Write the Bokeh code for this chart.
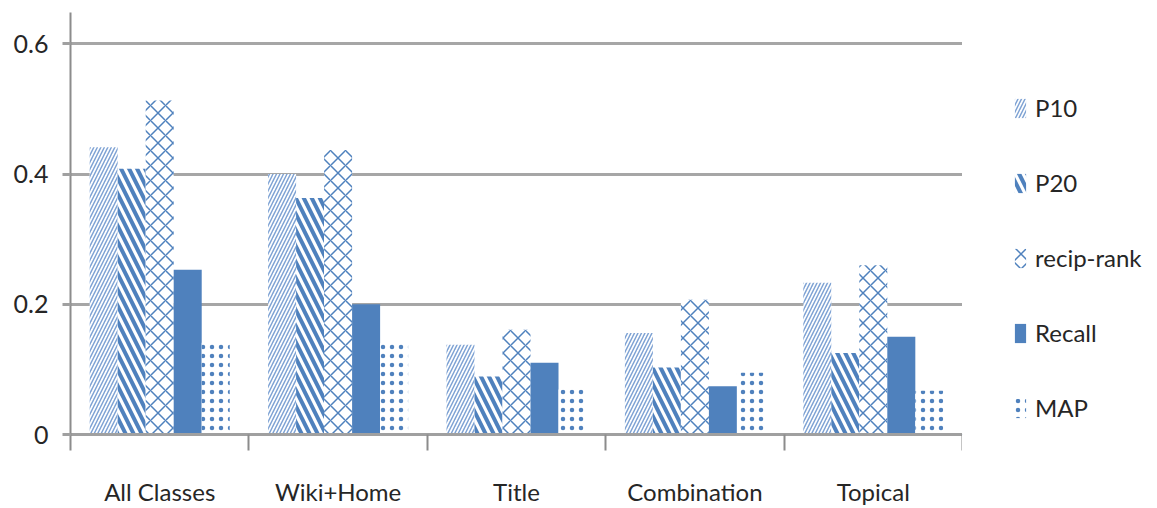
from bokeh.plotting import figure
from bokeh.models import ColumnDataSource, FixedTicker, Legend, LegendItem, Range1d
from bokeh.transform import dodge
from bokeh.layouts import row
from bokeh.embed import file_html
from bokeh.resources import INLINE

categories = ["All Classes", "Wiki+Home", "Title", "Combination", "Topical"]
series = ["P10", "P20", "recip-rank", "Recall", "MAP"]
p10 = [0.441, 0.400, 0.138, 0.156, 0.233]
p20 = [0.408, 0.363, 0.089, 0.103, 0.125]
recip_rank = [0.513, 0.437, 0.161, 0.207, 0.260]
recall = [0.253, 0.200, 0.110, 0.074, 0.150]
map_ = [0.141, 0.140, 0.069, 0.095, 0.067]
y_ticks = [0, 0.2, 0.4, 0.6]
y_tick_labels = ["0", "0.2", "0.4", "0.6"]

centers = [i + 0.5 for i in range(len(categories))]
source = ColumnDataSource(dict(x=centers, P10=p10, P20=p20, recip=recip_rank,
                               Recall=recall, MAP=map_))

FONT = "Lato"
BLUE = "#4f81bd"
TXT = "#262626"

p = figure(width=962, height=508, output_backend="svg", toolbar_location=None,
           x_range=Range1d(0, 5), y_range=Range1d(0, 0.648),
           min_border_left=70, min_border_right=0, min_border_top=12, min_border_bottom=73)
p.outline_line_color = None
p.background_fill_color = "white"

bw = 0.157
styles = [
    ("P10", dict(hatch_pattern="right_diagonal_line", hatch_color="#7fa3d4", hatch_weight=1.5, hatch_scale=7)),
    ("P20", dict(hatch_pattern="left_diagonal_line", hatch_color=BLUE, hatch_weight=4, hatch_scale=16)),
    ("recip", dict(hatch_pattern="diagonal_cross", hatch_color=BLUE, hatch_weight=1.5, hatch_scale=15)),
    ("Recall", dict(fill_color=BLUE)),
    ("MAP", dict(hatch_pattern="dot", hatch_color=BLUE, hatch_weight=3, hatch_scale=9)),
]
for j, (col, st) in enumerate(styles):
    kw = dict(fill_color="white", line_color=None)
    kw.update(st)
    p.vbar(x=dodge("x", (j - 2) * bw, range=p.x_range), top=col, width=bw,
           source=source, **kw)

# axes
xa = p.xaxis[0]
xa.ticker = FixedTicker(ticks=centers, minor_ticks=[0, 1, 2, 3, 4, 5])
xa.major_label_overrides = {c: lab for c, lab in zip(centers, categories)}
xa.major_tick_line_color = None
xa.minor_tick_line_color = "#8c8c8c"
xa.minor_tick_line_width = 2
xa.minor_tick_in = 0
xa.minor_tick_out = 16
xa.axis_line_color = "#a0a0a0"
xa.axis_line_width = 3
xa.major_label_text_font = FONT
xa.major_label_text_font_size = "24px"
xa.major_label_text_color = TXT
xa.major_label_standoff = 26

ya = p.yaxis[0]
ya.ticker = FixedTicker(ticks=y_ticks, minor_ticks=[])
ya.major_label_overrides = {t: l for t, l in zip(y_ticks, y_tick_labels)}
ya.axis_line_color = "#8c8c8c"
ya.axis_line_width = 2
ya.major_tick_line_color = "#a0a0a0"
ya.major_tick_line_width = 3
ya.major_tick_in = 0
ya.major_tick_out = 8
ya.major_label_text_font = FONT
ya.major_label_text_font_size = "25px"
ya.major_label_text_color = TXT
ya.major_label_standoff = 14

p.xgrid.grid_line_color = None
p.ygrid.grid_line_color = "#a6a6a6"
p.ygrid.grid_line_width = 3

# legend panel (its own small figure, with proxy bars kept outside its visible range)
lg = figure(width=195, height=508, output_backend="svg", toolbar_location=None,
            x_range=Range1d(0, 1), y_range=Range1d(0, 1),
            x_axis_type=None, y_axis_type=None,
            min_border_left=0, min_border_right=0, min_border_top=0, min_border_bottom=0)
lg.outline_line_color = None
proxy = ColumnDataSource(dict(x=[-10.0], top=[-10.0]))
leg_renderers = []
for j, (col, st) in enumerate(styles):
    kw = dict(fill_color="white", line_color=None)
    kw.update(st)
    leg_renderers.append(lg.vbar(x="x", top="top", bottom=-11.0, width=0.1, source=proxy, **kw))

legend = Legend(items=[LegendItem(label=s, renderers=[r]) for s, r in zip(series, leg_renderers)],
                location=(51, 12), orientation="vertical",
                glyph_width=14, glyph_height=24, spacing=46, label_standoff=8,
                label_text_font=FONT, label_text_font_size="24px", label_text_color=TXT,
                border_line_color=None, background_fill_alpha=0, margin=0, padding=0)
lg.add_layout(legend, "center")

layout = row(p, lg)
open("out.html", "w").write(file_html(layout, INLINE))
